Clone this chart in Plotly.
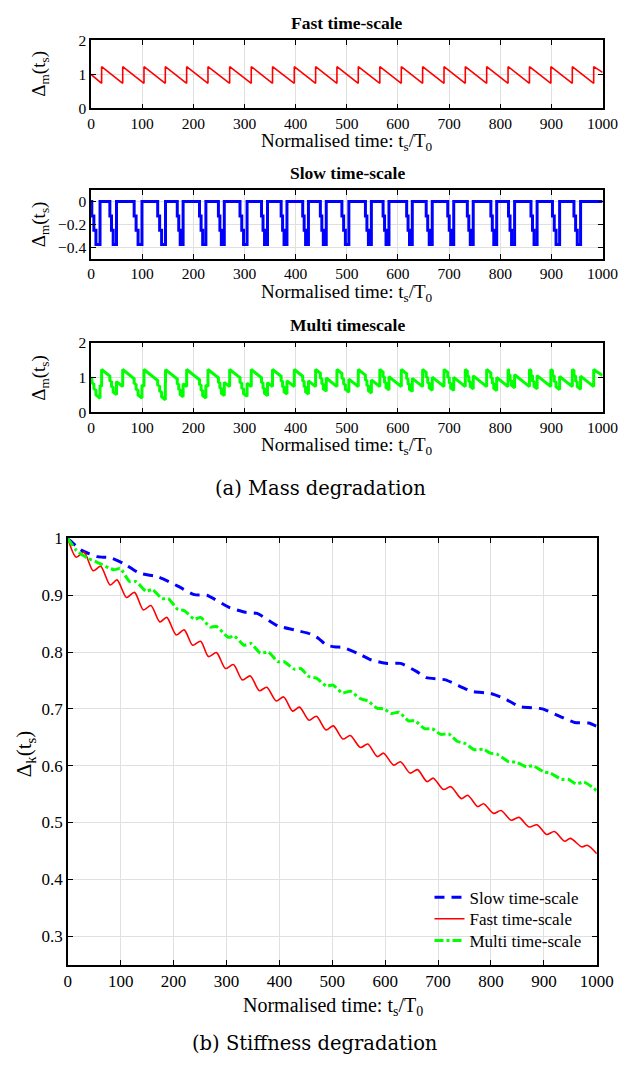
import plotly.graph_objects as go

W, H = 637, 1066

# ---------------- (a) mass degradation ----------------
# Fast time-scale: saw-tooth, jump instants and levels
fast_jump_t = [20.7, 61.9, 103.5, 145.2, 186.9, 228.6, 271.0, 313.2, 354.8, 397.3,
               439.0, 480.7, 522.4, 564.5, 606.5, 648.2, 690.0, 731.6, 773.4, 815.2,
               857.0, 898.9, 940.8, 982.6]
fast_start = 1.0
fast_low = 0.74
fast_high = 1.23
fast_end = 1.06

# Slow time-scale: stepped dips (drop start, recovery instant)
slow_dip_start = [1.5, 36.8, 84.3, 130.3, 168.6, 212.0, 249.0, 291.2, 333.3, 371.6,
                  413.8, 448.3, 490.4, 536.4, 570.9, 617.0, 655.2, 697.3, 735.6, 781.6,
                  816.1, 860.0, 902.0, 944.0]
slow_dip_end = [17.6, 49.8, 99.6, 145.6, 180.0, 224.5, 260.5, 305.0, 345.0, 383.0,
                425.0, 459.8, 504.0, 548.0, 582.4, 628.0, 667.0, 709.0, 747.1, 793.0,
                828.0, 872.0, 916.0, 957.0]
slow_levels = [-0.125, -0.25, -0.375]

# ---------------- (b) stiffness degradation ----------------
slow_k_t = [0, 26, 56, 80, 105, 135, 172, 208, 239, 263, 306, 336, 358, 397, 428, 458,
            474, 489, 507, 521, 550, 574, 604, 629, 659, 678, 714, 763, 800, 830, 854,
            897, 927, 958, 985, 1000]
slow_k_v = [1.0, 0.979, 0.968, 0.966, 0.956, 0.939, 0.932, 0.916, 0.901, 0.900, 0.878,
            0.870, 0.868, 0.846, 0.839, 0.832, 0.824, 0.812, 0.809, 0.808, 0.797, 0.786,
            0.780, 0.780, 0.766, 0.755, 0.751, 0.731, 0.727, 0.716, 0.704, 0.700, 0.688,
            0.676, 0.675, 0.669]

fast_k_t = [0, 16, 30.5, 48, 62, 80, 93, 111, 126, 143, 157, 174, 187, 205, 220, 236, 251,
            266, 281, 298, 313, 330, 345, 362, 376, 394, 408, 425, 438, 456, 470, 488, 502,
            520, 534, 553, 567, 585, 597, 616, 629, 647, 661, 679, 691, 710, 724, 744, 756,
            775, 786, 805, 819, 838, 853, 872, 887, 905, 920, 939, 950, 972, 982, 1000]
fast_k_v = [1.0, 0.967, 0.976, 0.943, 0.951, 0.918, 0.927, 0.896, 0.905, 0.874, 0.882,
            0.853, 0.861, 0.830, 0.839, 0.812, 0.819, 0.792, 0.799, 0.771, 0.778, 0.751,
            0.758, 0.732, 0.738, 0.714, 0.721, 0.696, 0.703, 0.680, 0.687, 0.663, 0.670,
            0.647, 0.653, 0.632, 0.638, 0.616, 0.622, 0.601, 0.607, 0.587, 0.593, 0.572,
            0.578, 0.558, 0.563, 0.542, 0.548, 0.528, 0.533, 0.516, 0.521, 0.504, 0.509,
            0.492, 0.496, 0.479, 0.484, 0.467, 0.472, 0.457, 0.460, 0.445]

multi_k_t = [0, 16, 38, 53, 87, 99, 117, 129, 148, 160, 178, 190, 208, 220, 239, 251, 269,
             281, 303, 315, 333, 346, 364, 379, 397, 409, 428, 440, 456, 470, 489, 501, 519,
             534, 553, 567, 585, 598, 611, 626, 644, 656, 675, 689, 705, 720, 736, 751, 769,
             785, 799, 812, 833, 848, 867, 879, 900, 912, 933, 946, 961, 976, 1000]
multi_k_v = [1.0, 0.979, 0.965, 0.959, 0.945, 0.947, 0.924, 0.924, 0.907, 0.910, 0.894,
             0.894, 0.875, 0.873, 0.858, 0.861, 0.844, 0.845, 0.826, 0.828, 0.812, 0.815,
             0.798, 0.800, 0.783, 0.783, 0.770, 0.771, 0.757, 0.754, 0.740, 0.742, 0.728,
             0.731, 0.718, 0.714, 0.701, 0.700, 0.692, 0.694, 0.679, 0.679, 0.665, 0.665,
             0.655, 0.656, 0.643, 0.639, 0.628, 0.629, 0.622, 0.620, 0.607, 0.606, 0.598,
             0.600, 0.589, 0.587, 0.576, 0.576, 0.568, 0.571, 0.556]

x_ticks = [0, 100, 200, 300, 400, 500, 600, 700, 800, 900, 1000]


# ---------- piecewise-linear signals built from the read breakpoints ----------
def fast_vertices():
    t, v = [0.0], [fast_start]
    for j in fast_jump_t:
        t += [j, j]
        v += [fast_low, fast_high]
    t.append(1000.0)
    v.append(fast_end)
    return t, v


def slow_vertices():
    t, v = [0.0], [0.0]
    for s, e in zip(slow_dip_start, slow_dip_end):
        step = (e - s) / 4.0
        if t[-1] < s:
            t.append(s); v.append(0.0)
        t += [s, s + step, s + step, s + 2 * step, s + 2 * step, e, e]
        v += [slow_levels[0], slow_levels[0], slow_levels[1], slow_levels[1],
              slow_levels[2], slow_levels[2], 0.0]
    t.append(1000.0); v.append(0.0)
    return t, v


def value_at(ts, vs, x, side):
    # left/right limit of a piecewise-linear signal with jumps
    idx = [i for i, tt in enumerate(ts) if tt == x]
    if idx:
        return vs[idx[0]] if side == "left" else vs[idx[-1]]
    for i in range(len(ts) - 1):
        if ts[i] < x < ts[i + 1]:
            r = (x - ts[i]) / (ts[i + 1] - ts[i])
            return vs[i] + r * (vs[i + 1] - vs[i])
    return vs[-1]


fast_t, fast_v = fast_vertices()
slow_t, slow_v = slow_vertices()

multi_t, multi_v = [], []
for x in sorted(set(fast_t) | set(slow_t)):
    a = value_at(fast_t, fast_v, x, "left") + value_at(slow_t, slow_v, x, "left")
    b = value_at(fast_t, fast_v, x, "right") + value_at(slow_t, slow_v, x, "right")
    multi_t.append(x); multi_v.append(a)
    if abs(b - a) > 1e-9:
        multi_t.append(x); multi_v.append(b)


# ---------------- layout helpers (pixels -> paper fractions) ----------------
def px_x(x):
    return x / W


def px_y(y):
    return 1 - y / H


SERIF = "Liberation Serif"

axis_common = dict(
    showline=True, linecolor="black", linewidth=1.5, mirror="allticks",
    ticks="inside", ticklen=5, tickwidth=1.3, tickcolor="black",
    showgrid=True, gridcolor="#e0e0e0", gridwidth=1.3, zeroline=False,
    tickfont=dict(family=SERIF, size=15.5, color="black"),
)

fig = go.Figure()

fig.add_trace(go.Scatter(x=fast_t, y=fast_v, mode="lines", line=dict(color="#ff0000", width=1.6),
                         xaxis="x", yaxis="y", showlegend=False))
fig.add_trace(go.Scatter(x=slow_t, y=slow_v, mode="lines", line=dict(color="#0000ff", width=3),
                         xaxis="x2", yaxis="y2", showlegend=False))
fig.add_trace(go.Scatter(x=multi_t, y=multi_v, mode="lines", line=dict(color="#00ff00", width=3),
                         xaxis="x3", yaxis="y3", showlegend=False))

fig.add_trace(go.Scatter(x=slow_k_t, y=slow_k_v, mode="lines", name="Slow time-scale",
                         line=dict(color="#0000ff", width=3, dash="10px,7px", shape="spline", smoothing=0.5),
                         xaxis="x4", yaxis="y4", legend="legend"))
fig.add_trace(go.Scatter(x=fast_k_t, y=fast_k_v, mode="lines", name="Fast time-scale",
                         line=dict(color="#ff0000", width=1.6, shape="spline", smoothing=0.8),
                         xaxis="x4", yaxis="y4", legend="legend2"))
fig.add_trace(go.Scatter(x=multi_k_t, y=multi_k_v, mode="lines", name="Multi time-scale",
                         line=dict(color="#00ff00", width=3, dash="9px,3px,3px,3px", shape="spline", smoothing=0.6),
                         xaxis="x4", yaxis="y4", legend="legend3"))

# panel boxes in pixels: (left, top, right, bottom)
boxes = {
    1: (90, 32, 619, 101),
    2: (90, 184, 619, 254),
    3: (90, 339, 619, 410),
    4: (66, 538, 613, 971),
}


def legend_box(yc):
    return dict(x=px_x(440), y=px_y(yc), xanchor="left", yanchor="middle",
                bgcolor="rgba(0,0,0,0)", borderwidth=0,
                font=dict(family=SERIF, size=17, color="black"), itemwidth=30)


layout = dict(
    width=W, height=H, margin=dict(l=0, r=0, t=0, b=0),
    paper_bgcolor="white", plot_bgcolor="white",
    font=dict(family=SERIF, color="black"),
    legend=legend_box(903), legend2=legend_box(925), legend3=legend_box(947),
)

y_specs = {
    1: dict(range=[0, 2], tickvals=[0, 1, 2]),
    2: dict(range=[-0.5, 0.1], tickvals=[-0.4, -0.2, 0], ticktext=["\u22120.4", "\u22120.2", "0"]),
    3: dict(range=[0, 2], tickvals=[0, 1, 2]),
    4: dict(range=[0.25, 1.0], tickvals=[0.3, 0.4, 0.5, 0.6, 0.7, 0.8, 0.9, 1.0],
            ticktext=["0.3", "0.4", "0.5", "0.6", "0.7", "0.8", "0.9", "1"]),
}

for k, (l, t, r, b) in boxes.items():
    sx = "" if k == 1 else str(k)
    xa = dict(axis_common, domain=[px_x(l), px_x(r)], range=[0, 1000], tickvals=x_ticks,
              anchor="y" + sx)
    ya = dict(axis_common, domain=[px_y(b), px_y(t)], anchor="x" + sx, **y_specs[k])
    if k == 4:
        xa["tickfont"] = dict(family=SERIF, size=17, color="black")
        ya["tickfont"] = dict(family=SERIF, size=17, color="black")
    layout["xaxis" + sx] = xa
    layout["yaxis" + sx] = ya

fig.update_layout(**layout)


def label(text, x, y, size, angle=0, bold=False, family=SERIF):
    fig.add_annotation(
        text="<b>" + text + "</b>" if bold else text,
        x=px_x(x), y=px_y(y), xref="paper", yref="paper",
        xanchor="center", yanchor="middle", showarrow=False, textangle=angle,
        font=dict(family=family, size=size, color="black"),
    )


xtitle = "Normalised time: t<sub>s</sub>/T<sub>0</sub>"
ytitle_m = "\u0394<sub>m</sub>(t<sub>s</sub>)"
ytitle_k = "\u0394<sub>k</sub>(t<sub>s</sub>)"

label("Fast time-scale", 355, 14, 17.5, bold=True)
label("Slow time-scale", 355, 167, 17.5, bold=True)
label("Multi timescale", 355, 321, 17.5, bold=True)

for yc in (135, 289, 444):
    label(xtitle, 355, yc, 19)
for yc in (66, 219, 375):
    label(ytitle_m, 37, yc, 19, angle=-90)

label(xtitle, 340, 1014, 20)
label(ytitle_k, 22, 757, 21, angle=-90)

label("(a) Mass degradation", 327, 487, 19.5, family="DejaVu Serif")
label("(b) Stiffness degradation", 322, 1051, 19.5, family="DejaVu Serif")

fig.write_html("out.html")
